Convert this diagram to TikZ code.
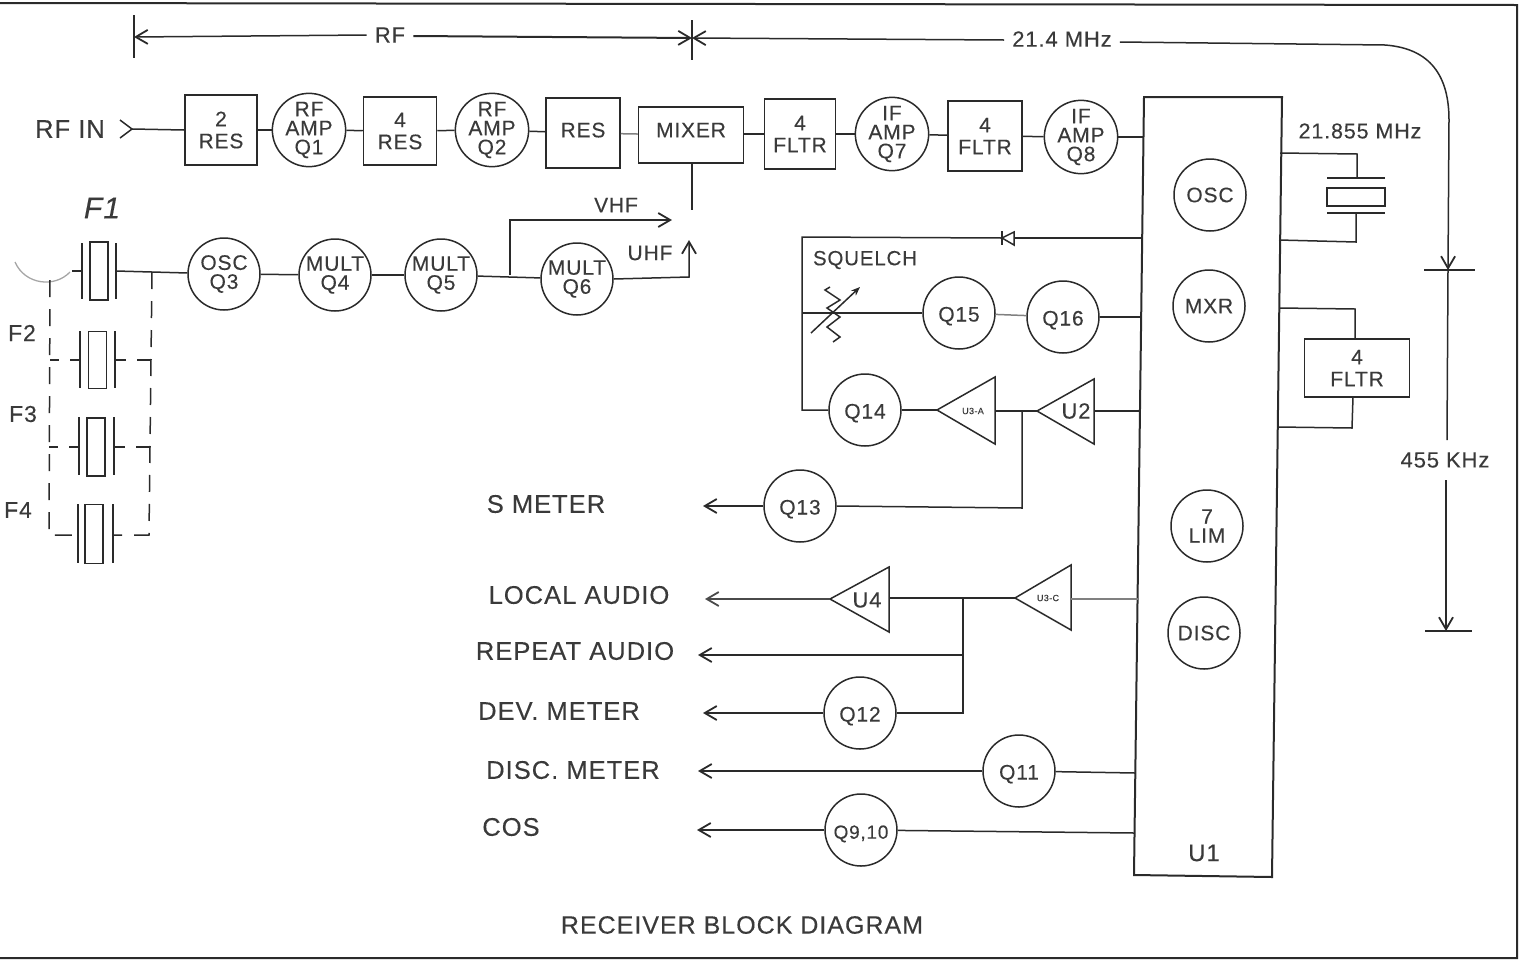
\documentclass[tikz,border=0pt]{standalone}
\usepackage{fontspec}
\setmainfont[LetterSpace=4,FakeBold=0.25]{Liberation Sans}
\usetikzlibrary{arrows.meta}
\definecolor{ink}{HTML}{2A2A2A}
\definecolor{txt}{HTML}{3A3A3A}
\tikzset{
  wire/.style={draw=ink,line width=1.5pt},
  dashwire/.style={draw=ink,line width=1.5pt,dash pattern=on 17pt off 12pt},
  arrowwire/.style={wire,-{Straight Barb[length=12pt,width=14pt,line width=1.8pt]}},
  cirbase/.style={circle,draw=ink,line width=1.5pt,minimum size=72pt,inner sep=0pt,align=center,text=txt,font=\fontsize{21}{19}\selectfont},
  cir/.style={cirbase,execute at begin node={\rule{0pt}{21pt}}},
  blockbox/.style={rectangle,draw=ink,line width=1.5pt,inner sep=0pt,align=center,text=txt,font=\fontsize{21}{22}\selectfont},
  label/.style={text=txt,inner sep=0pt,font=\fontsize{25.5}{27}\selectfont},
  small/.style={text=txt,inner sep=0pt,font=\fontsize{22}{24}\selectfont},
  plate/.style={draw=ink,line width=1.8pt},
  xtal/.style={draw=ink,line width=1.6pt,fill=white},
  tri/.style={draw=ink,line width=1.5pt,line join=miter},
}
\begin{document}
\begin{tikzpicture}[x=1pt,y=-1pt]
\useasboundingbox (0,0) rectangle (1529,962);
% page frame
\draw[draw=ink,line width=2pt] (0,3) -- (1517,5) -- (1517,958) -- (0,958);
% dimension lines
\coordinate (dimA) at (134,37);
\coordinate (dimB) at (692,38);
\node[small] (rf) at (390,35) {RF};
\node[small] (mhz) at (1062,39) {21.4 MHz};
\node[small] (khz) at (1445,460) {455 KHz};
\coordinate (tickC) at (1448,270);
\coordinate (tickD) at (1446,631);
\coordinate (khzTop) at (1447,440);
\coordinate (khzBot) at (1446,480);
\draw[wire] (134,15) -- (134,58);
\draw[wire] (692,20) -- (692,60);
\draw[wire,line width=2pt] (1424,270) -- (1475,270);
\draw[wire,line width=2pt] (1425,631) -- (1472,631);
\draw[arrowwire] (rf.west) ++(-8,0) -- (dimA);
\draw[arrowwire,line width=2pt] (rf.east) ++(8,1) -- (dimB);
\draw[arrowwire] (mhz.west) ++(-8,1) -- (dimB);
\draw[arrowwire] (mhz.east) ++(8,3) -- (1385,45) .. controls (1425,48) and (1449,70) .. (1449,120) -- (tickC);
\draw[wire] (tickC) -- (khzTop);
\draw[arrowwire] (khzBot) -- (tickD);
% front end row
\node[label] (rfin) at (70,129) {RF IN};
\coordinate (rfinTip) at (132,129);
\draw[wire] (120,120) -- (rfinTip) -- (120,138);
\node[blockbox,minimum width=72pt,minimum height=70pt] (res2) at (221,130) {2\\RES};
\node[cir] (q1) at (309,130) {RF\\AMP\\Q1};
\node[blockbox,minimum width=73pt,minimum height=68pt] (res4) at (400,131) {4\\RES};
\node[cir] (q2) at (492,130) {RF\\AMP\\Q2};
\node[blockbox,minimum width=74pt,minimum height=70pt,text depth=6pt] (res) at (583,133) {RES};
\node[blockbox,minimum width=105pt,minimum height=56pt,text depth=10pt] (mixer) at (691,135) {MIXER};
\node[blockbox,minimum width=71pt,minimum height=70pt] (fltrA) at (800,134) {4\\FLTR};
\node[cir] (q7) at (892,134) {IF\\AMP\\Q7};
\node[blockbox,minimum width=74pt,minimum height=70pt] (fltrB) at (985,136) {4\\FLTR};
\node[cir] (q8) at (1081,137) {IF\\AMP\\Q8};
% U1
\coordinate (uTL) at (1144,97);
\coordinate (uTR) at (1282,97);
\coordinate (uBR) at (1272,877);
\coordinate (uBL) at (1134,875);
\draw[wire,line width=2pt] (uTL) -- (uTR) -- (uBR) -- (uBL) -- cycle;
\node[small,font=\fontsize{24}{26}\selectfont] (u1) at (1204,853) {U1};
\node[cirbase] (osc) at (1210,195) {OSC};
\node[cirbase] (mxr) at (1209,306) {MXR};
\node[cir] (lim) at (1207,526) {7\\LIM};
\node[cirbase] (disc) at (1204,633) {DISC};
% row wires
\draw[wire] (rfinTip) -- (res2.west);
\draw[wire] (res2) -- (q1);
\draw[wire] (q1) -- (res4);
\draw[wire] (res4) -- (q2);
\draw[wire] (q2) -- (res);
\draw[wire,draw=gray] (res) -- (mixer);
\draw[wire] (mixer.east |- fltrA) -- (fltrA);
\draw[wire] (fltrA) -- (q7);
\draw[wire] (q7) -- (fltrB);
\draw[wire] (fltrB) -- (q8);
\coordinate (inQ8) at (1144,137);
\draw[wire] (q8) -- (inQ8);
% crystals
\node[small,font=\fontsize{30}{30}\selectfont\itshape] (f1) at (102,208) {F1};
\node[label,font=\fontsize{23}{25}\selectfont] (f2) at (22,333) {F2};
\node[label,font=\fontsize{23}{25}\selectfont] (f3) at (23,414) {F3};
\node[label,font=\fontsize{23}{25}\selectfont] (f4) at (18,510) {F4};
\node[xtal,minimum width=18pt,minimum height=58pt,inner sep=0pt] (xa) at (99,271) {};
\node[xtal,minimum width=18pt,minimum height=57pt,inner sep=0pt] (xb) at (97.4,360) {};
\node[xtal,minimum width=18pt,minimum height=58pt,inner sep=0pt] (xc) at (96,447) {};
\node[xtal,minimum width=18pt,minimum height=59pt,inner sep=0pt] (xd) at (94,534) {};
\draw[plate] (82,243) -- (82,299) (116,243) -- (116,299);
\draw[plate] (80,331) -- (80,388) (115,331) -- (115,388);
\draw[plate] (79,417) -- (79,475) (114,417) -- (114,475);
\draw[plate] (78,504) -- (78,563) (113,504) -- (113,563);
\node[cir] (q3) at (224,274) {OSC\\Q3};
\node[cir] (q4) at (335,275) {MULT\\Q4};
\node[cir] (q5) at (441,275) {MULT\\Q5};
\node[cir] (q6) at (577,279) {MULT\\Q6};
\coordinate (f1L) at (82,271);
\coordinate (f1R) at (116,271);
\coordinate (busR) at (152,272);
\coordinate (busL) at (50,280);
\draw[draw=gray!70,line width=1.3pt] (15,262) .. controls (25,285) and (55,288) .. (70,272);
\draw[wire] (f1L) -- (72,271);
\draw[wire] (f1R) -- (q3);
\draw[dashwire] (busL) -- (49,535) -- (78,535);
\draw[dashwire] (busR) -- (149,535) -- (113,535);
\draw[dashwire,dash pattern=on 9pt off 11pt on 11pt off 0pt] (50,360) -- (80,360);
\draw[dashwire,dash pattern=on 11pt off 11pt on 9pt off 0pt] (115,360) -- (151,360);
\draw[dashwire,dash pattern=on 9pt off 11pt on 10pt off 0pt] (49,447) -- (79,447);
\draw[dashwire,dash pattern=on 11pt off 11pt on 10pt off 0pt] (114,447) -- (150,447);
\draw[wire] (q3) -- (q4);
\draw[wire] (q4) -- (q5);
\draw[wire] (q5) -- (q6);
% VHF / UHF
\node[small,font=\fontsize{21}{23}\selectfont] (vhf) at (616,205) {VHF};
\node[small,font=\fontsize{21}{23}\selectfont] (uhf) at (650,253) {UHF};
\coordinate (vhfStart) at (510,275);
\coordinate (vhfEnd) at (672,220);
\coordinate (uhfEnd) at (689,240);
\draw[arrowwire] (vhfStart) -- (510,220) -- (vhfEnd);
\draw[arrowwire] (q6.east) -- (689,277) -- (uhfEnd);
\draw[wire] (mixer.south -| 692,0) -- (692,210);
% squelch
\node[small,font=\fontsize{20.5}{22}\selectfont] (sq) at (865,260) {SQUELCH};
\node[cir] (q14) at (865,410) {Q14};
\node[cir] (q15) at (959,313) {Q15};
\node[cir] (q16) at (1063,317) {Q16};
\coordinate (uDiode) at (1142,238);
\coordinate (cornerSq) at (802,237);
\coordinate (uQ16) at (1141,317);
\coordinate (leftQ15) at (802,313);
\coordinate (diodeTip) at (1002,238);
\coordinate (diodeBack) at (1014,238);
\draw[wire] (uDiode) -- (diodeBack);
\draw[wire] (diodeTip) -- (cornerSq) -- (802,410) -- (q14.west);
\draw[wire,fill=white] (diodeTip) -- (1014,232) -- (1014,245) -- cycle;
\draw[wire] (1002,231) -- (1002,245);
\draw[wire] (leftQ15) -- (q15.west);
\draw[wire,draw=gray] (q15) -- (q16);
\draw[wire] (q16) -- (uQ16);
\draw[wire] (830,287) -- (825,290) -- (840,300) -- (827,308) -- (840,317) -- (827,327) -- (840,337) -- (833,342);
\draw[wire,-{Stealth[open,length=9pt,width=7pt]}] (811,333) -- (860,287);
% amplifiers
\coordinate (ua) at (937,410); \coordinate (uaT) at (995,377); \coordinate (uaB) at (995,444);
\coordinate (ub) at (1037,411); \coordinate (ubT) at (1094,379); \coordinate (ubB) at (1094,444);
\coordinate (uc) at (1015,598); \coordinate (ucT) at (1071,565); \coordinate (ucB) at (1071,630);
\coordinate (ud) at (830,599); \coordinate (udT) at (889,567); \coordinate (udB) at (889,632);
\draw[tri] (ua) -- (uaT) -- (uaB) -- cycle;
\draw[tri] (ub) -- (ubT) -- (ubB) -- cycle;
\draw[tri] (uc) -- (ucT) -- (ucB) -- cycle;
\draw[tri] (ud) -- (udT) -- (udB) -- cycle;
\node[small,font=\fontsize{9}{10}\selectfont] (uaL) at (973,411) {U3-A};
\node[small] (ubL) at (1076,411) {U2};
\node[small,font=\fontsize{9}{10}\selectfont] (ucL) at (1048,598) {U3-C};
\node[small] (udL) at (867,600) {U4};
\draw[wire] (q14) -- (ua);
\draw[wire] (995,411) -- (ub);
\coordinate (uU2) at (1140,411);
\draw[wire] (1094,411) -- (uU2);
\coordinate (junA) at (1022,411);
\node[cir] (q13) at (800,506) {Q13};
\node[label] (smeter) at (546,504) {S METER};
\coordinate (smEnd) at (703,506);
\draw[wire] (junA) -- (1022,508) -- (q13.east);
\draw[arrowwire] (q13) -- (smEnd);
% audio
\coordinate (uU3) at (1138,599);
\draw[wire,draw=gray] (uU3) -- (1071,599);
\draw[wire] (uc) -- (889,598);
\coordinate (laEnd) at (705,599);
\node[label] (local) at (579,595) {LOCAL AUDIO};
\draw[arrowwire,draw=ink!85] (ud) -- (laEnd);
\coordinate (junB) at (963,598);
\node[cir] (q12) at (860,713) {Q12};
\node[label] (dev) at (559,711) {DEV. METER};
\node[label] (rep) at (575,651) {REPEAT AUDIO};
\coordinate (repEnd) at (698,655);
\coordinate (devEnd) at (703,713);
\draw[wire] (junB) -- (963,713) -- (q12.east);
\draw[arrowwire] (963,655) -- (repEnd);
\draw[arrowwire] (q12) -- (devEnd);
\node[cir] (q11) at (1019,771) {Q11};
\node[label] (dm) at (573,770) {DISC. METER};
\coordinate (dmEnd) at (698,771);
\coordinate (uQ11) at (1135,773);
\draw[arrowwire] (q11) -- (dmEnd);
\draw[wire] (q11) -- (uQ11);
\node[cir,font=\fontsize{19}{20}\selectfont] (q9) at (861,830) {Q9,10};
\node[label] (cos) at (511,827) {COS};
\coordinate (cosEnd) at (697,830);
\coordinate (uQ9) at (1134,833);
\draw[arrowwire] (q9) -- (cosEnd);
\draw[wire] (q9) -- (uQ9);
% 21.855 crystal
\node[small,font=\fontsize{21.5}{23}\selectfont] (f21) at (1360,131) {21.855 MHz};
\node[xtal,minimum width=58pt,minimum height=18pt,inner sep=0pt] (xe) at (1356,197) {};
\draw[plate] (1327,178) -- (1385,178) (1327,213) -- (1385,213);
\draw[wire] (1280,153) -- (1357,154) -- (1357,178);
\draw[wire] (1356,213) -- (1356,242) -- (1279,240);
% output filter
\node[blockbox,minimum width=105pt,minimum height=58pt] (fltrC) at (1357,368) {4\\FLTR};
\draw[wire] (1280,308) -- (1355,309) -- (1355,339);
\draw[wire] (1353,397) -- (1352,428) -- (1278,427);
\node[label,font=\fontsize{25}{27}\selectfont] (title) at (742,925) {RECEIVER BLOCK DIAGRAM};
\end{tikzpicture}
\end{document}
